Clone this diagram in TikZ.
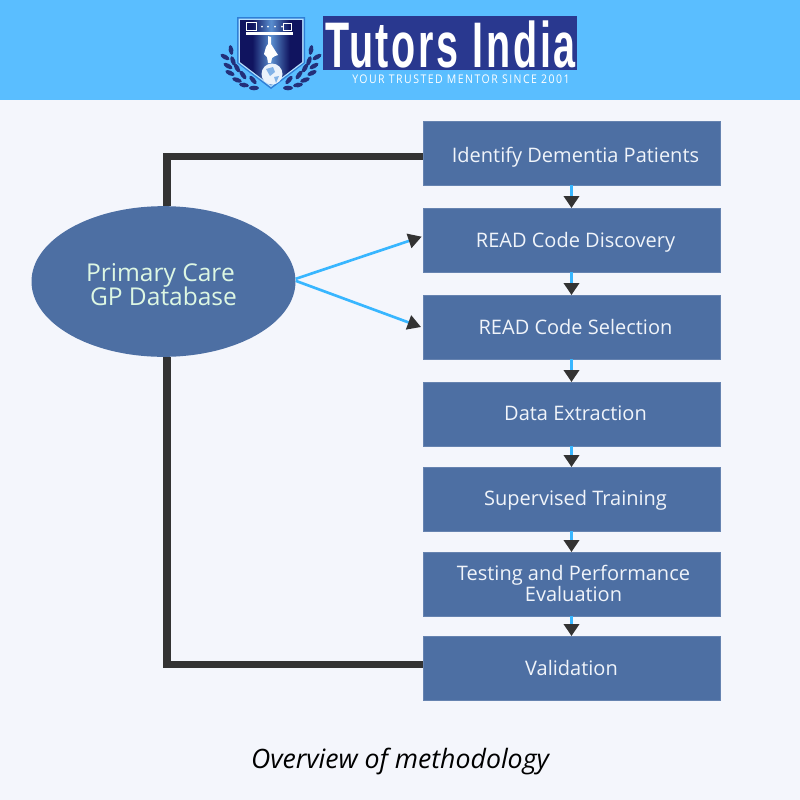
\documentclass[tikz,border=0pt]{standalone}
\usepackage{fontspec}
\usepackage{graphicx}
\setmainfont{Open Sans}
\newfontfamily\logofont[LetterSpace=7]{Liberation Sans}
\newfontfamily\tagfont[LetterSpace=14]{Open Sans}
\usetikzlibrary{arrows.meta,shapes.geometric}
\definecolor{pagebg}{HTML}{F4F6FC}
\definecolor{bandblue}{HTML}{5ABEFF}
\definecolor{boxblue}{HTML}{4D6FA3}
\definecolor{linkblue}{HTML}{38B6FF}
\definecolor{trunkgrey}{HTML}{333333}
\definecolor{logonavy}{HTML}{29388F}
\definecolor{shielddark}{HTML}{10145F}
\definecolor{shieldmid}{HTML}{5A8FD0}
\definecolor{shieldedge}{HTML}{2F7FD6}
\definecolor{boxtext}{HTML}{F0F4FA}
\definecolor{dbtext}{HTML}{DDF7E3}
\newcommand{\steptext}[2]{\raisebox{#1}[0pt][0pt]{#2}}
\pgfdeclarehorizontalshading{shieldfill}{100bp}{color(0bp)=(shielddark); color(35bp)=(shielddark); color(50bp)=(shieldmid); color(65bp)=(shielddark); color(100bp)=(shielddark)}
\tikzset{
  stepbox/.style={fill=boxblue, draw=boxblue!85!pagebg, line width=0.3pt, text=boxtext,
    minimum width=222.45pt, minimum height=47.7pt,
    inner sep=0pt, align=center, font=\fontsize{15}{16}\selectfont},
  link/.style={draw=linkblue, line width=2pt,
    -{Triangle[length=9pt, width=11.5pt, color=trunkgrey]}},
  slantlink/.style={draw=linkblue, line width=2pt,
    -{Triangle[length=10pt, width=11pt, color=trunkgrey]}},
  trunk/.style={draw=trunkgrey, line width=5.6pt},
  leaf/.style={fill=logonavy!85!black, draw=none}
}
\begin{document}
\begin{tikzpicture}[x=0.75pt, y=-0.75pt]
  \useasboundingbox (0, 0) rectangle (800, 800);
  \fill [pagebg] (0, 0) rectangle (800, 800);
  \fill [bandblue] (0, 0) rectangle (800, 100);

  % logo
  \foreach \s in {1, -1} {
    \begin{scope}[shift={(271, 0)}, xscale=\s]
      \foreach \lx/\ly/\la in {-40/50/80, -46/57/30, -38/61/70, -43/66/30, -34/68/60,
          -41/73/25, -28/75/55, -34/80/20, -18/80/50, -27/85/10, -17/88/0} {
        \fill [leaf] (\lx, \ly) ellipse [x radius=5, y radius=2.3, rotate=-\la];
      }
    \end{scope}
  }
  \fill [shieldedge] (237, 17) -- (305, 17) -- (305, 63) -- (271, 89) -- (237, 63) -- cycle;
  \fill [pagebg!60!bandblue] (238.5, 18.5) -- (303.5, 18.5) -- (303.5, 62.5) -- (271, 87) -- (238.5, 62.5) -- cycle;
  \shade [shading=shieldfill]
    (240, 20) -- (302, 20) -- (302, 62) -- (271, 85.5) -- (240, 62) -- cycle;
  \fill [white] (246, 32) rectangle (293, 35);
  \draw [white, line width=0.5pt] (246.5, 22.5) rectangle (256, 30) (283, 23.5) rectangle (291, 30);
  \foreach \sx in {262, 268, 275, 282} {
    \fill [white] (\sx, 26.5) circle [radius=1];
  }
  \fill [white] (268, 36) -- (271, 37) -- (271, 44) -- (276, 52) -- (278, 55) -- (275, 56) -- (272, 58) -- (271, 63) -- (268, 63) -- (267, 57) -- (264, 54) -- (266, 47) -- (268, 44) -- cycle;
  \fill [white!90!shieldedge] (272, 74) circle [radius=10.5];
  \fill [shieldedge!60!white] (266, 69) -- (273, 67) -- (275, 72) -- (270, 76) -- cycle (274, 77) -- (279, 76) -- (276, 83) -- cycle;

  \fill [logonavy] (323, 16) rectangle (577, 69.5);
  \node (brand) at (450.5, 44) [inner sep=0pt, text=white] {\resizebox{188pt}{35pt}{\logofont\bfseries Tutors India}};
  \node (motto) at (461, 79) [inner sep=0pt, text=white] {\resizebox{163pt}{6.5pt}{\tagfont\fontsize{9}{9}\selectfont YOUR TRUSTED MENTOR SINCE 2001}};

  % database
  \node (database) at (163.5, 281.5) [ellipse, fill=boxblue, minimum width=198pt, minimum height=113pt, inner sep=0pt] {};
  \node (databasetext) at (160.5, 285) [text=dbtext, inner sep=0pt, align=center, font=\fontsize{18.4}{18}\selectfont] {Primary Care\\[-1.5pt]\hspace*{4.5pt}GP Database};

  % steps
  \node (identify) at (571.5, 153) [stepbox] {\hspace*{6pt}\steptext{-6.9pt}{Identify Dementia Patients}};
  \node (discovery) at (571.5, 240) [stepbox] {\hspace*{6pt}\steptext{-5.25pt}{READ Code Discovery}};
  \node (selection) at (571.5, 327) [stepbox] {\hspace*{6pt}\steptext{-5.7pt}{READ Code Selection}};
  \node (extraction) at (571.5, 414) [stepbox] {\hspace*{6pt}\steptext{-5pt}{Data Extraction}};
  \node (training) at (571.5, 499) [stepbox] {\hspace*{6pt}\steptext{-4.5pt}{Supervised Training}};
  \node (testing) at (571.5, 584) [stepbox] {\hspace*{3pt}\steptext{-5pt}{Testing and Performance}\\\hspace*{3pt}\steptext{-5.25pt}{Evaluation}};
  \node (validation) at (571.5, 668) [stepbox] {\steptext{-5.7pt}{Validation}};

  \foreach \a/\b in {identify/discovery, discovery/selection, selection/extraction,
      extraction/training, training/testing, testing/validation} {
    \draw [link] (\a) -- (\b);
  }

  \draw [slantlink] ([yshift=2pt]database.east) -- ([xshift=-1pt, yshift=2.5pt]discovery.west);
  \draw [slantlink] ([yshift=0.5pt]database.east) -- ([xshift=-1.5pt]selection.west);

  \draw [trunk] ([xshift=2.6pt]database.north) |- ([yshift=-2.55pt]identify.west);
  \draw [trunk] ([xshift=2.6pt]database.south) |- ([yshift=2.6pt]validation.west);

  \node (caption) at (400, 761) [font=\fontsize{20}{20}\selectfont\itshape, text=black] {Overview of methodology};
\end{tikzpicture}
\end{document}
